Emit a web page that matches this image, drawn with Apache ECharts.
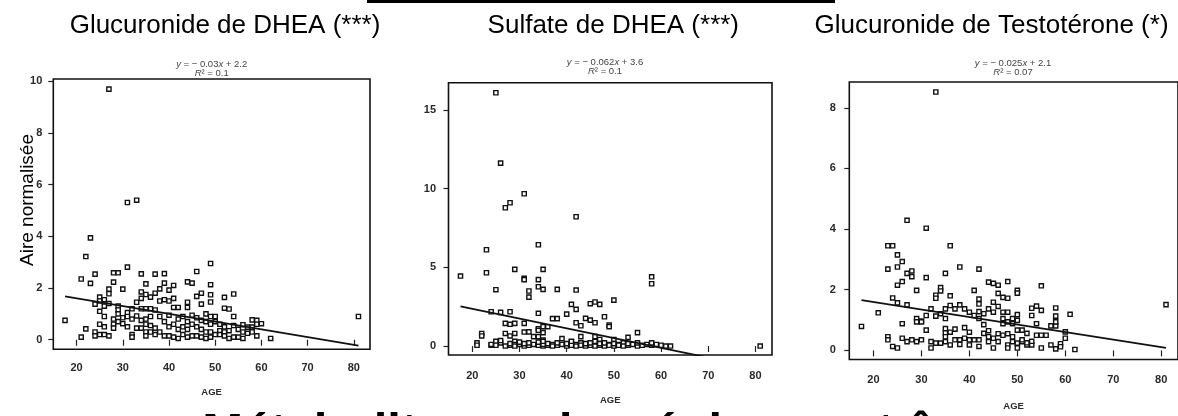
<!DOCTYPE html>
<html>
<head>
<meta charset="utf-8">
<script src="https://cdn.jsdelivr.net/npm/echarts@6/dist/echarts.min.js"></script>
<style>
html,body{margin:0;padding:0;background:#fff;}
#c{width:1178px;height:416px;}
</style>
</head>
<body>
<div id="c"></div>
<script>
const titles = ['Glucuronide de DHEA (***)', 'Sulfate de DHEA (***)', 'Glucuronide de Testotérone (*)'];
const eqSlopes = ['0.03', '0.062', '0.025'];
const eqIntercepts = ['2.2', '3.6', '2.1'];
const r2Values = ['0.1', '0.1', '0.07'];
const yAxisTitle = 'Aire normalisée';
const xAxisTitle = 'AGE';
const bottomText = 'Métabolites androgéniques et âge';
const xTicks = [20, 30, 40, 50, 60, 70, 80];
const yTicks1 = [0, 2, 4, 6, 8, 10];
const yTicks2 = [0, 5, 10, 15];
const yTicks3 = [0, 2, 4, 6, 8];

const pointsDheaG = [
[17.5,0.75],[21,2.35],[21,0.1],[22,3.22],[22,0.42],[23,3.94],[23,2.18],
[24,2.54],[24,1.38],[24,0.3],[24,0.15],[25,1.65],[25,1.5],[25,1.1],[25,0.6],[25,0.2],
[26,1.55],[26,1.3],[26,0.9],[26,0.5],[26,0.2],[27,9.7],[27,1.96],[27,1.78],[27,1.4],[27,0.15],
[28,2.59],[28,2.23],[28,0.8],[28,0.6],[28,0.45],[29,2.59],[29,1.3],[29,1.15],[29,1.0],[29,0.7],
[30,1.96],[30,0.85],[30,0.62],[31,5.31],[31,2.81],[31,1.05],[31,0.9],[31,0.5],
[32,1.2],[32,0.8],[32,0.2],[32,0.1],[33,5.4],[33,1.45],[33,0.92],[33,0.45],
[34,2.55],[34,1.85],[34,1.6],[34,1.2],[34,0.75],[34,0.45],
[35,2.16],[35,1.75],[35,1.2],[35,0.8],[35,0.6],[35,0.3],[35,0.15],
[36,1.65],[36,1.2],[36,0.9],[36,0.55],[36,0.3],[37,2.54],[37,1.8],[37,1.15],[37,0.45],[37,0.2],
[38,1.97],[38,1.5],[38,0.9],[38,0.3],[39,2.56],[39,2.19],[39,1.55],[39,0.7],[39,0.15],
[40,1.92],[40,1.5],[40,0.95],[40,0.5],[40,0.15],[41,2.1],[41,1.6],[41,1.25],[41,0.6],[41,0.1],
[42,1.25],[42,0.8],[42,0.4],[42,0.05],[43,0.9],[43,0.5],[43,0.2],
[44,2.24],[44,1.45],[44,1.25],[44,0.7],[44,0.4],[44,0.1],[45,2.19],[45,0.95],[45,0.6],[45,0.15],
[46,2.64],[46,1.68],[46,0.85],[46,0.5],[46,0.15],[47,1.8],[47,1.38],[47,0.75],[47,0.4],[47,0.1],
[48,1.0],[48,0.7],[48,0.3],[48,0.05],
[49,2.95],[49,2.13],[49,1.74],[49,1.46],[49,0.9],[49,0.6],[49,0.3],[49,0.1],
[50,0.9],[50,0.7],[50,0.2],[51,0.6],[51,0.35],[51,0.2],[52,1.64],[52,1.22],[52,0.5],[52,0.3],[52,0.15],
[53,1.19],[53,0.35],[53,0.05],[54,1.77],[54,0.9],[54,0.55],[54,0.1],[55,0.4],[55,0.1],
[56,0.58],[56,0.3],[56,0.05],[57,0.49],[57,0.25],[58,0.77],[58,0.49],[58,0.3],
[59,0.75],[59,0.6],[59,0.15],[60,0.62],[62,0.05],[81,0.9]
];

const pointsDheaS = [
[17.5,4.45],[25,16.1],[26,11.63],[27,8.79],[28,9.11],[31,9.68],[42,8.22],[23,6.12],[34,6.44],
[23,4.66],[25,3.58],[29,4.87],[31,4.3],[31,4.22],[35,4.87],[34,4.22],[32,3.5],[32,3.11],
[34,3.77],[35,3.6],[38,3.6],[42,3.56],[41,2.65],[42,2.33],[45,2.69],[46,2.8],[47,2.65],[50,2.92],
[58,4.4],[58,3.96],[81,0],
[24,2.18],[26,2.14],[28,2.18],[34,2.08],[40,2.03],
[27,1.44],[28,1.38],[29,1.44],[31,1.44],[37,1.74],[38,1.74],[42,1.48],[43,1.29],[44,1.76],[45,1.65],
[46,1.48],[48,1.86],[49,1.33],[49,1.23],[55,0.85],[34,1.1],[35,1.23],[36,1.23],
[22,0.8],[22,0.64],[27,0.8],[28,0.64],[29,0.8],[31,0.89],[32,0.9],[33,0.6],[34,1.0],[34,0.6],
[35,0.85],[35,0.38],[39,0.47],[41,0.27],[43,0.6],[46,0.6],[47,0.42],[50,0.42],[53,0.55],
[21,0.2],[21,0.05],[24,0.05],[24,0.1],[25,0.15],[25,0.3],[25,0.05],[26,0.2],[26,0.35],[27,0.0],
[28,0.05],[28,0.15],[29,0.3],[29,0.1],[29,0.0],[30,0.1],[30,0.25],[31,0.0],[31,0.15],[32,0.05],[32,0.2],
[33,0.1],[34,0.05],[34,0.25],[35,0.0],[35,0.1],[35,0.3],[36,0.05],[36,0.15],[37,0.1],[37,0.0],
[38,0.05],[38,0.2],[39,0.1],[40,0.0],[40,0.15],[41,0.05],[41,0.3],[42,0.1],[42,0.0],[43,0.2],[43,0.05],
[44,0.0],[44,0.15],[45,0.05],[45,0.2],[46,0.1],[46,0.0],[46,0.3],[47,0.05],[47,0.15],[48,0.0],[48,0.2],
[49,0.1],[49,0.05],[50,0.0],[50,0.15],[51,0.1],[51,0.05],[52,0.2],[52,0.0],[53,0.05],[53,0.15],
[54,0.1],[55,0.0],[55,0.2],[56,0.05],[57,0.1],[58,0.05],[58,0.2],[59,0.1],[60,0.05],[61,0.0],[62,0.0]
];

const pointsTestoG = [
[17.5,0.79],[21,1.24],[23,3.45],[24,3.45],[25,3.15],[26,2.93],[23,2.68],[25,2.75],[27,2.54],
[28,2.62],[28,2.43],[25,2.15],[26,2.27],[29,1.98],[24,1.73],[25,1.57],[27,1.5],[27,4.29],[31,4.03],
[31,2.4],[33,8.52],[33,1.82],[33,1.72],[34,2.07],[34,1.96],[35,2.54],[36,3.45],[36,1.8],[38,2.75],
[41,1.98],[42,2.68],[44,2.25],[45,2.21],[46,2.15],[46,1.88],[47,1.75],[48,2.27],[48,1.72],[50,1.98],
[50,1.89],[53,1.39],[54,1.46],[55,1.32],[55,2.13],[53,1.15],[54,0.88],[54,0.5],[55,0.5],[57,0.81],
[58,0.81],[58,1.4],[58,1.13],[58,0.94],[60,0.61],[61,1.19],[62,0.03],[59,0.22],[59,0.12],[60,0.4],
[58,0.05],[57,0.18],[81,1.51],
[29,1.05],[30,0.97],[30,0.94],[31,1.15],[32,1.37],[33,1.13],[34,1.21],[35,1.37],[35,1.05],[36,1.48],
[37,1.37],[38,1.5],[39,1.37],[40,1.26],[41,1.15],[42,1.69],[42,1.53],[42,1.28],[42,1.05],[43,1.21],
[44,1.37],[45,1.59],[45,1.26],[46,1.45],[47,1.26],[47,1.05],[47,0.88],[48,1.26],[48,0.94],[49,1.05],
[49,0.88],[50,1.18],[50,0.99],[51,0.67],[52,0.56],
[23,0.45],[23,0.35],[24,0.13],[25,0.08],[26,0.4],[26,0.88],[27,0.29],[28,0.35],[29,0.94],[29,0.29],
[30,0.35],[31,0.67],[32,0.08],[32,0.29],[33,0.24],[34,0.24],[35,0.72],[35,0.58],[35,0.45],[35,0.29],
[36,0.18],[37,0.35],[38,0.35],[39,0.4],[40,0.18],[41,0.35],[42,0.35],[42,0.13],[43,0.56],[44,0.29],
[44,0.45],[45,0.08],[46,0.29],[47,0.5],[48,0.18],[48,0.08],[49,0.29],[50,0.67],[50,0.08],[50,0.24],
[51,0.29],[52,0.18],[53,0.18],[55,0.08],[36,0.6],[37,0.7],[39,0.75],[40,0.6],[43,0.85],[44,0.65],
[45,0.4],[46,0.55],[48,0.55],[49,0.45],[51,0.35],[52,0.25],[53,0.3],[56,0.5],[40,0.35],[38,0.2]
];

const fitDheaG = [[17.5, 1.68], [81, -0.23]];
const fitDheaS = [[17.5, 2.52], [81, -1.42]];
const fitTestoG = [[17.5, 1.66], [81, 0.08]];

const grids = [
  {left: 53.3, top: 79, width: 316.7, height: 270.3},
  {left: 448.5, top: 82.7, width: 323.5, height: 272.3},
  {left: 849.3, top: 82, width: 333, height: 282}
];
const yRanges = [[-0.37, 10.09], [-0.57, 16.74], [-0.3, 8.85]];
const yTicks = [yTicks1, yTicks2, yTicks3];
const pointSets = [pointsDheaG, pointsDheaS, pointsTestoG];
const fits = [fitDheaG, fitDheaS, fitTestoG];
const xLabelMargins = [13, 15, 15];
const xNameGaps = [38, 40.5, 41.5];
const yLabelMargins = [11, 12.5, 13.5];

const tickFont = {fontFamily: 'Liberation Sans', fontWeight: 'bold', fontSize: 11, color: '#2a2a2a'};

const option = {
  backgroundColor: '#fff',
  animation: false,
  grid: grids.map(g => Object.assign({show: true, borderColor: '#111', borderWidth: 1.6, backgroundColor: 'transparent', containLabel: false}, g)),
  xAxis: grids.map((g, i) => ({
    type: 'value', gridIndex: i, min: 14.96, max: 83.5,
    axisLine: {show: false},
    axisTick: {show: true, length: 6, customValues: xTicks, lineStyle: {color: '#222', width: 1.2}},
    axisLabel: Object.assign({show: true, margin: xLabelMargins[i], customValues: xTicks}, tickFont),
    splitLine: {show: false},
    name: xAxisTitle, nameLocation: 'middle', nameGap: xNameGaps[i],
    nameTextStyle: {fontFamily: 'Liberation Sans', fontWeight: 'bold', fontSize: 9.5, color: '#2a2a2a'}
  })),
  yAxis: grids.map((g, i) => ({
    type: 'value', gridIndex: i, min: yRanges[i][0], max: yRanges[i][1],
    axisLine: {show: false},
    axisTick: {show: true, length: 5, customValues: yTicks[i], lineStyle: {color: '#222', width: 1.2}},
    axisLabel: Object.assign({show: true, margin: yLabelMargins[i], customValues: yTicks[i]}, tickFont),
    splitLine: {show: false}
  })),
  series: [].concat(
    pointSets.map((pts, i) => ({
      type: 'scatter', xAxisIndex: i, yAxisIndex: i, data: pts,
      symbol: 'rect', symbolSize: 4.2,
      itemStyle: {color: '#fff', borderColor: '#111', borderWidth: 1.4, opacity: 1},
      z: 3
    })),
    fits.map((f, i) => ({
      type: 'line', xAxisIndex: i, yAxisIndex: i, data: f,
      showSymbol: false, symbol: 'none', clip: true,
      lineStyle: {color: '#111', width: 1.8},
      z: 4
    }))
  ),
  graphic: []
};

const titleX = [225, 613.3, 991.5];
const eqX = [211.7, 605, 1013];
const eqY = [64, 62.7, 63];
titles.forEach((t, i) => {
  option.graphic.push({
    type: 'text', x: titleX[i], y: 26, silent: true,
    style: {text: t, fill: '#000', font: '26px "Liberation Sans", Arial, sans-serif', textAlign: 'center', textVerticalAlign: 'middle'}
  });
  option.graphic.push({
    type: 'text', x: eqX[i], y: eqY[i], silent: true,
    style: {
      text: '{i|y} = − ' + eqSlopes[i] + '{i|x} + ' + eqIntercepts[i],
      rich: {i: {fontStyle: 'italic', fontSize: 9.5, fontFamily: 'Liberation Sans', fill: '#444'}},
      fill: '#444', font: '9.5px "Liberation Sans", Arial, sans-serif', textAlign: 'center', textVerticalAlign: 'middle'
    }
  });
  option.graphic.push({
    type: 'text', x: eqX[i], y: eqY[i] + 9, silent: true,
    style: {
      text: '{i|R}² = ' + r2Values[i],
      rich: {i: {fontStyle: 'italic', fontSize: 9.5, fontFamily: 'Liberation Sans', fill: '#444'}},
      fill: '#444', font: '9.5px "Liberation Sans", Arial, sans-serif', textAlign: 'center', textVerticalAlign: 'middle'
    }
  });
});
option.graphic.push({
  type: 'text', x: 28, y: 200, rotation: Math.PI / 2, silent: true,
  style: {text: yAxisTitle, fill: '#000', font: '19px "Liberation Sans", Arial, sans-serif', textAlign: 'center', textVerticalAlign: 'middle'}
});
option.graphic.push({
  type: 'rect', shape: {x: 367, y: 0, width: 468, height: 3}, style: {fill: '#000'}, silent: true
});
option.graphic.push({
  type: 'text', x: 597, y: 433, silent: true, z: -10,
  style: {text: bottomText, fill: '#000', font: 'bold 49px "Liberation Sans", Arial, sans-serif', textAlign: 'center', textVerticalAlign: 'middle'}
});

const chart = echarts.init(document.getElementById('c'), null, {renderer: 'canvas'});
chart.setOption(option);
</script>
</body>
</html>
